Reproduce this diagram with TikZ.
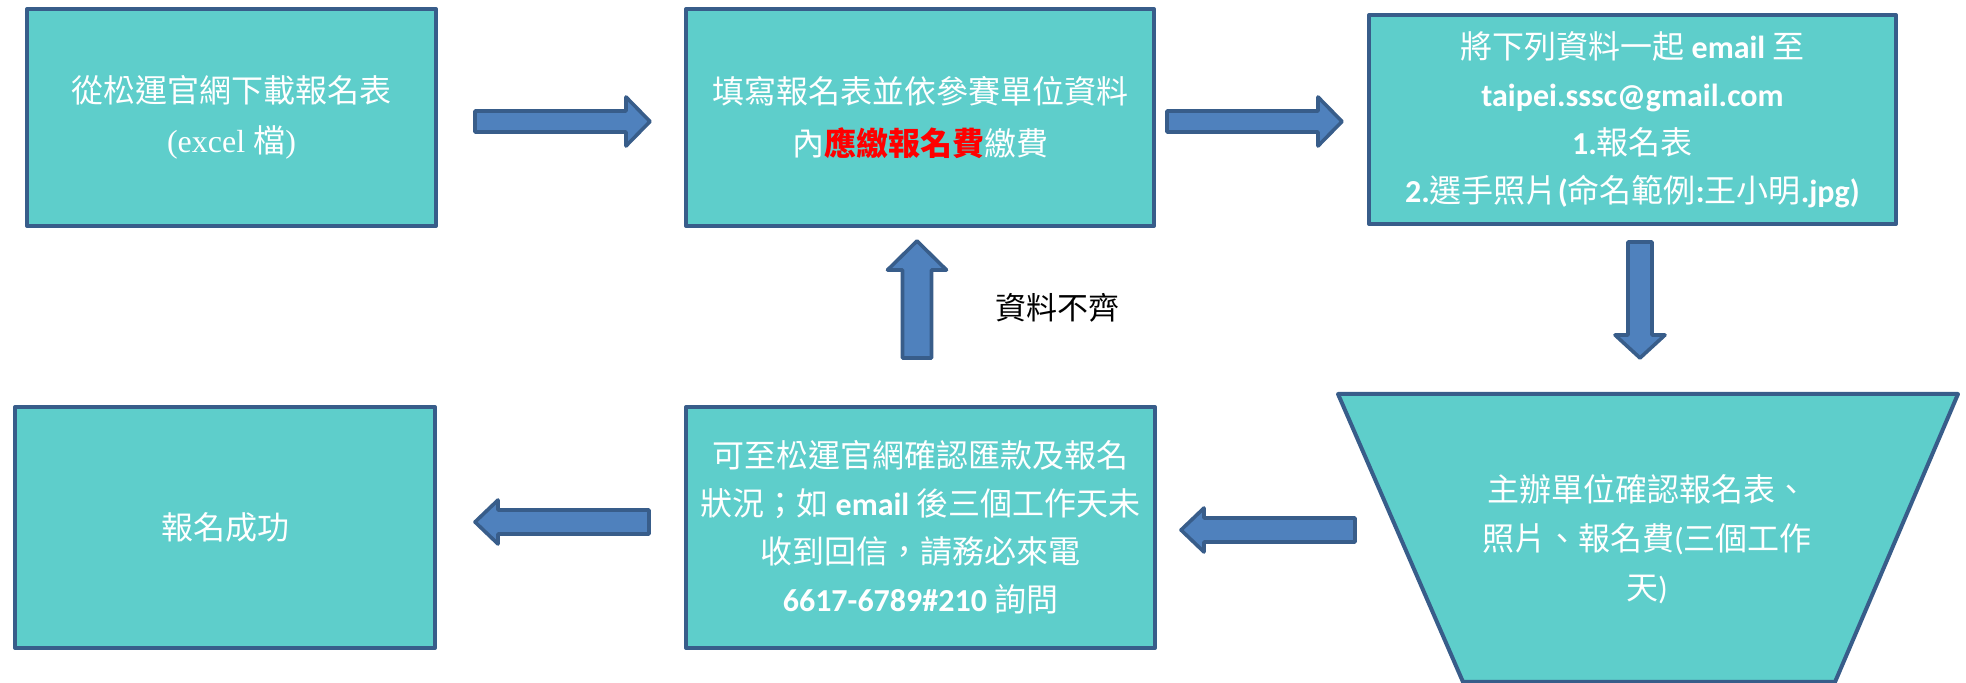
\documentclass[tikz,border=0pt]{standalone}
\usepackage{fontspec}
\setmainfont{Carlito}
\newfontfamily\cjk{Noto Sans CJK TC}
\newfontfamily\tnr{Liberation Serif}
\usetikzlibrary{calc}
\definecolor{boxfill}{RGB}{94,206,203}
\definecolor{boxline}{RGB}{56,93,138}
\definecolor{arrfill}{RGB}{79,129,189}
\definecolor{arrline}{RGB}{56,93,138}
% horizontal block arrow: #1 from, #2 to, #3 half shaft, #4 half head, #5 head length
\newcommand\hblock[5]{%
  \path[blockarrow] let \p1=(#1), \p2=(#2), \n1={sign(\x2-\x1)} in
    (\x1,{\y1-#3}) -- ({\x2-\n1*#5},{\y1-#3}) -- ({\x2-\n1*#5},{\y1-#4}) -- (\x2,\y1)
    -- ({\x2-\n1*#5},{\y1+#4}) -- ({\x2-\n1*#5},{\y1+#3}) -- (\x1,{\y1+#3}) -- cycle;}
% vertical block arrow
\newcommand\vblock[5]{%
  \path[blockarrow] let \p1=(#1), \p2=(#2), \n1={sign(\y2-\y1)} in
    ({\x1-#3},\y1) -- ({\x1-#3},{\y2-\n1*#5}) -- ({\x1-#4},{\y2-\n1*#5}) -- (\x1,\y2)
    -- ({\x1+#4},{\y2-\n1*#5}) -- ({\x1+#3},{\y2-\n1*#5}) -- ({\x1+#3},\y1) -- cycle;}
\begin{document}
\begin{tikzpicture}[x=0.5pt,y=-0.5pt,
  box/.style={draw=boxline, fill=boxfill, line width=2pt, line join=round,
    text=white, align=center, inner sep=0pt,
    font=\fontsize{16}{24}\selectfont},
  trapez/.style={draw=boxline, fill=boxfill, line width=2pt, line join=round},
  blockarrow/.style={draw=arrline, fill=arrfill, line width=1.8pt, line join=round},
  lbl/.style={text=black, font=\cjk\fontsize{15.5}{18}\selectfont, inner sep=0pt}]
\useasboundingbox (0,0) rectangle (1966,683);

% boxes
\node[box, minimum width=204.5pt, minimum height=108.5pt, font=\fontsize{16}{25}\selectfont] (b1) at (231.5,117.5)
  {{\cjk 從松運官網下載報名表}\\{\tnr (excel }{\cjk 檔}{\tnr )}};
\node[box, minimum width=234pt, minimum height=108.5pt, font=\fontsize{16}{26}\selectfont] (b2) at (920,117.5)
  {{\cjk 填寫報名表並依參賽單位資料}\\{\cjk 內{\color{red}\bfseries 應繳報名費}繳費}};
\node[box, minimum width=263.5pt, minimum height=104.5pt] (b3) at (1632.5,119.5)
  {{\cjk 將下列資料一起} \textbf{email} {\cjk 至}\\
   \textbf{taipei.sssc@gmail.com}\\
   \textbf{1.}{\cjk 報名表}\\
   \textbf{2.}{\cjk 選手照片}\textbf{(}{\cjk 命名範例}\textbf{:}{\cjk 王小明}\textbf{.jpg)}};
\node[box, minimum width=234.5pt, minimum height=120.5pt] (b4) at (920.5,527.5)
  {{\cjk 可至松運官網確認匯款及報名}\\
   {\cjk 狀況；如} \textbf{email} {\cjk 後三個工作天未}\\
   {\cjk 收到回信，請務必來電}\\
   \textbf{6617-6789\#210} {\cjk 詢問}};
\node[box, minimum width=210pt, minimum height=120.5pt] (b5) at (225,527.5)
  {{\cjk 報名成功}};

% trapezoid step
\coordinate (t1) at (1338,394);
\coordinate (t2) at (1958,394);
\coordinate (t3) at (1835,682);
\coordinate (t4) at (1463,682);
\path[trapez] (t1) -- (t2) -- (t3) -- (t4) -- cycle;
\node[align=center, text=white, inner sep=0pt, font=\fontsize{16}{24.5}\selectfont] (t) at (1647,539)
  {{\cjk 主辦單位確認報名表、}\\{\cjk 照片、報名費}({\cjk 三個工作}\\{\cjk 天})};

% label
\node[lbl] (l1) at (1057,308) {資料不齊};

% block arrows
\coordinate (a1s) at (475,121.5);  \coordinate (a1e) at (650,121.5);
\coordinate (a2s) at (1167,121.5); \coordinate (a2e) at (1342,121.5);
\coordinate (a3s) at (1640,242);   \coordinate (a3e) at (1640,358);
\coordinate (a4s) at (1355,530);   \coordinate (a4e) at (1181,530);
\coordinate (a5s) at (649,522);    \coordinate (a5e) at (475,522);
\coordinate (a6s) at (917,358);    \coordinate (a6e) at (917,241);
\hblock{a1s}{a1e}{5.25pt}{12.25pt}{12pt}
\hblock{a2s}{a2e}{5.25pt}{12.25pt}{12pt}
\vblock{a3s}{a3e}{6pt}{12.5pt}{11.5pt}
\hblock{a4s}{a4e}{6pt}{11pt}{11.5pt}
\hblock{a5s}{a5e}{6pt}{11pt}{11.5pt}
\vblock{a6s}{a6e}{7.25pt}{14.75pt}{14.5pt}
\end{tikzpicture}
\end{document}
